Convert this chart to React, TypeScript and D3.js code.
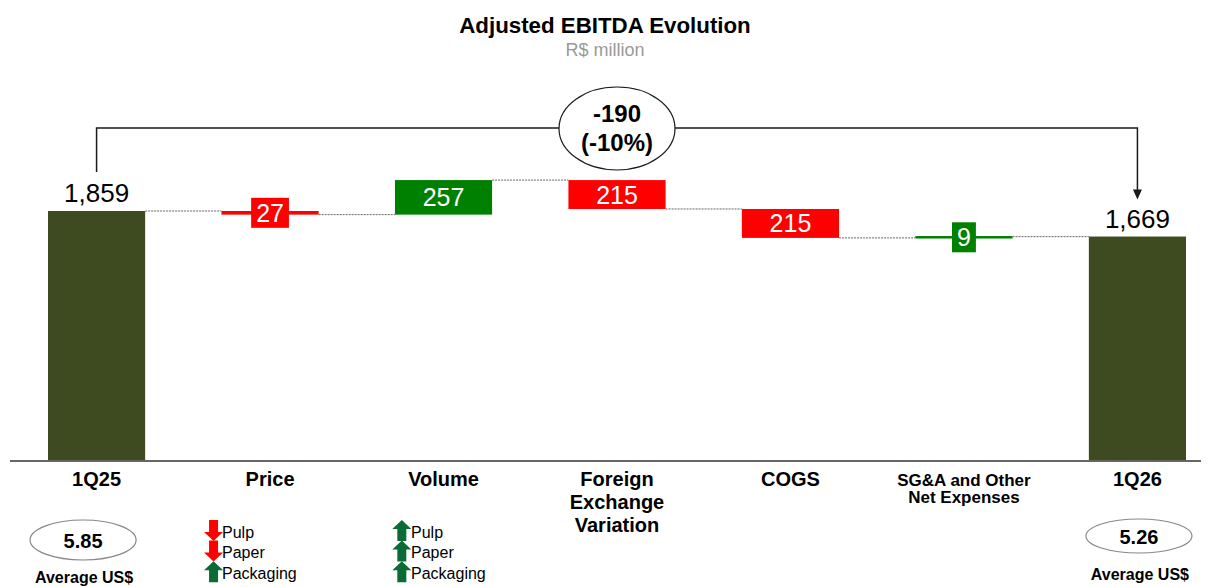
import React from "react";
import * as d3 from "d3";

// ---- data ----
const categories = ["1Q25", "Price", "Volume", "FX", "COGS", "SGA", "1Q26"];
const categoryLines = [
  ["1Q25"],
  ["Price"],
  ["Volume"],
  ["Foreign", "Exchange", "Variation"],
  ["COGS"],
  ["SG&A and Other", "Net Expenses"],
  ["1Q26"],
];
const values = [1859, -27, 257, -215, -215, 9, 1669];
const isTotal = [true, false, false, false, false, false, true];
const valueLabels = ["1,859", "27", "257", "215", "215", "9", "1,669"];
const changeLabel = ["-190", "(-10%)"];
const fxCategories = ["1Q25", "1Q26"];
const fxRates = ["5.85", "5.26"];
const fxCaption = "Average US$";
const driverItems = ["Pulp", "Paper", "Packaging"];
const priceDirections = ["down", "down", "up"];
const volumeDirections = ["up", "up", "up"];

const W = 1211;
const H = 587;
const baseY = 461;
const FONT = "'Liberation Sans', Arial, sans-serif";

const OLIVE = "#3e4a1f";
const GREEN = "#008000";
const RED = "#ff0000";
const ARROW_GREEN = "#0b6b35";

function Arrow({ cx, top, bottom, dir, color }: { cx: number; top: number; bottom: number; dir: string; color: string }) {
  const hw = 9.5; // head half width
  const sw = 4.5; // shaft half width
  const hl = 9; // head length
  let pts: number[][];
  if (dir === "up") {
    pts = [
      [cx, top], [cx + hw, top + hl], [cx + sw, top + hl], [cx + sw, bottom],
      [cx - sw, bottom], [cx - sw, top + hl], [cx - hw, top + hl],
    ];
  } else {
    pts = [
      [cx, bottom], [cx + hw, bottom - hl], [cx + sw, bottom - hl], [cx + sw, top],
      [cx - sw, top], [cx - sw, bottom - hl], [cx - hw, bottom - hl],
    ];
  }
  return <polygon points={pts.map((p) => p.join(",")).join(" ")} fill={color} />;
}

export default function App() {
  const x = d3.scaleBand<string>().domain(categories).range([48, 1186]).paddingInner(0.44).paddingOuter(0);
  const y = d3.scaleLinear().domain([0, 3428]).range([baseY, 0]);
  const bw = x.bandwidth();
  const cx = (c: string) => (x(c) as number) + bw / 2;

  // waterfall levels
  let level = 0;
  const bars = categories.map((c, i) => {
    let y0: number, y1: number;
    if (isTotal[i]) {
      y0 = 0;
      y1 = values[i];
    } else {
      y0 = level;
      y1 = level + values[i];
    }
    level = y1;
    return { c, i, y0, y1, end: y1 };
  });

  const driverRows = (c: string, dirs: string[], arrowDx: number, textDx: number) =>
    driverItems.map((t, k) => {
      const yc = 531.5 + k * 20.6;
      const color = dirs[k] === "up" ? ARROW_GREEN : RED;
      return (
        <g key={c + t}>
          <Arrow cx={cx(c) + arrowDx} top={yc - 11.5} bottom={yc + 9.5} dir={dirs[k]} color={color} />
          <text x={cx(c) + textDx} y={yc + 6} fontSize={16} fill="#000">{t}</text>
        </g>
      );
    });

  const bracketY = 128;
  const bx0 = cx(categories[0]);
  const bx1 = cx(categories[categories.length - 1]);
  const bmid = (bx0 + bx1) / 2;
  const arrowTip = y(values[6]) - 37;

  return (
    <svg width={W} height={H} style={{ position: "absolute", left: 0, top: 0, background: "#fff" }} fontFamily={FONT}>
      {/* title */}
      <text x={605} y={33} textAnchor="middle" fontSize={22.3} fontWeight="bold" fill="#000">Adjusted EBITDA Evolution</text>
      <text x={605} y={56} textAnchor="middle" fontSize={18} fill="#999">R$ million</text>

      {/* connectors */}
      {bars.slice(0, -1).map((b, i) => {
        const next = categories[i + 1];
        const yy = y(b.end);
        return (
          <line key={"c" + i} x1={(x(b.c) as number) + bw} x2={x(next) as number} y1={yy} y2={yy}
            stroke="#666" strokeWidth={1} strokeDasharray="2,1" />
        );
      })}

      {/* bars */}
      {bars.map((b) => {
        const top = y(Math.max(b.y0, b.y1));
        const h = Math.abs(y(b.y0) - y(b.y1));
        const color = isTotal[b.i] ? OLIVE : values[b.i] < 0 ? RED : GREEN;
        const small = !isTotal[b.i] && h < 6;
        const mid = top + h / 2;
        const hh = small ? Math.max(h, 2.5) : h;
        return (
          <g key={b.c}>
            <rect x={x(b.c)} y={small ? mid - hh / 2 : top} width={bw} height={hh} fill={color} />
            {isTotal[b.i] && (
              <text x={cx(b.c)} y={top - 9} textAnchor="middle" fontSize={26} fill="#000">{valueLabels[b.i]}</text>
            )}
            {!isTotal[b.i] && small && (() => {
              const tw = valueLabels[b.i].length * 0.556 * 25 + 10;
              return (
                <g>
                  <rect x={cx(b.c) - tw / 2} y={mid - 15} width={tw} height={30} fill={color} />
                  <text x={cx(b.c)} y={mid + 9} textAnchor="middle" fontSize={25} fill="#fff">{valueLabels[b.i]}</text>
                </g>
              );
            })()}
            {!isTotal[b.i] && !small && (
              <text x={cx(b.c)} y={mid + 9} textAnchor="middle" fontSize={25} fill="#fff">{valueLabels[b.i]}</text>
            )}
          </g>
        );
      })}

      {/* baseline */}
      <line x1={10} x2={1201} y1={baseY} y2={baseY} stroke="#666" strokeWidth={2} />

      {/* bracket with total change */}
      <path d={`M${bx0},172 V${bracketY} H${bx1} V${arrowTip - 9}`} fill="none" stroke="#1a1a1a" strokeWidth={1.5} />
      <polygon points={`${bx1 - 4.5},${arrowTip - 10} ${bx1 + 4.5},${arrowTip - 10} ${bx1},${arrowTip}`} fill="#1a1a1a" />
      <ellipse cx={bmid} cy={128.5} rx={58} ry={41.5} fill="#fff" stroke="#1a1a1a" strokeWidth={1.2} />
      <text x={bmid} y={122} textAnchor="middle" fontSize={24} fontWeight="bold" fill="#000">{changeLabel[0]}</text>
      <text x={bmid} y={151} textAnchor="middle" fontSize={24} fontWeight="bold" fill="#000">{changeLabel[1]}</text>

      {/* category labels */}
      {categories.map((c, i) => {
        const lines = categoryLines[i];
        const small = lines[0].length > 10;
        const fs = small ? 17 : 20;
        const lh = small ? 17 : 23;
        return (
          <text key={"l" + c} x={cx(c)} textAnchor="middle" fontSize={fs} fontWeight="bold" fill="#000">
            {lines.map((ln, k) => (
              <tspan key={k} x={cx(c)} y={486 + k * lh}>{ln}</tspan>
            ))}
          </text>
        );
      })}

      {/* average FX rate ovals */}
      {fxCategories.map((c, k) => {
        const ey = k === 0 ? 540 : 536;
        const ry = k === 0 ? 20 : 17;
        const capY = k === 0 ? 583 : 580;
        return (
          <g key={"fx" + c}>
            <ellipse cx={cx(c) - 13.5 + k * 15} cy={ey} rx={53} ry={ry} fill="#fff" stroke="#888" strokeWidth={1.2} />
            <text x={cx(c) - 13.5 + k * 15} y={ey + 7.5} textAnchor="middle" fontSize={20} fontWeight="bold" fill="#000">{fxRates[k]}</text>
            <text x={cx(c) - 12.5 + k * 15} y={capY} textAnchor="middle" fontSize={16} fontWeight="bold" fill="#000">{fxCaption}</text>
          </g>
        );
      })}

      {/* price / volume drivers */}
      {driverRows("Price", priceDirections, -56.5, -48)}
      {driverRows("Volume", volumeDirections, -41.7, -32.5)}
    </svg>
  );
}
